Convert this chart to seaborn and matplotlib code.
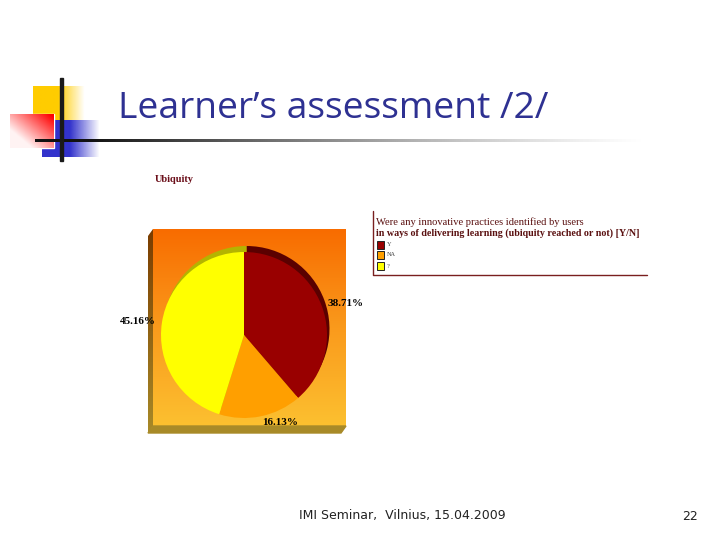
import numpy as np
import matplotlib
matplotlib.use('Agg')
import matplotlib.pyplot as plt
import seaborn as sns
from matplotlib.patches import Polygon, Rectangle

# Chart data
slide_title = 'Learner\u2019s assessment /2/'
footer = 'IMI Seminar,  Vilnius, 15.04.2009'
page = '22'
chart_title = 'Ubiquity'
legend_title = ['Were any innovative practices identified by users',
                'in ways of delivering learning (ubiquity reached or not) [Y/N]']
categories = ['Y', 'NA', '?']
shares = [38.71, 16.13, 45.16]
slice_colors = ['#990000', '#FF9F00', '#FFFF00']
shadow_colors = ['#5A0000', '#A06400', '#B4B400']

sns.set_theme(style='white')
plt.rcParams['font.family'] = ['DejaVu Sans']

fig = plt.figure(figsize=(7.2, 5.4), dpi=100, facecolor='white')

# Whole slide in pixel units
bg = fig.add_axes([0, 0, 1, 1])
bg.set_axis_off()


def fade(ax, extent, rgb, alpha, z):
    img = np.zeros(alpha.shape + (4,))
    img[..., :3] = matplotlib.colors.to_rgb(rgb)
    img[..., 3] = alpha
    ax.imshow(img, extent=extent, aspect='auto', zorder=z, interpolation='bilinear')


# Logo squares
xfade = np.clip((85 - np.linspace(33, 85, 60)) / 27, 0, 1)[None, :]
fade(bg, (33, 85, 120, 86), '#FFCC00', xfade, 1)
xfade = np.clip((100 - np.linspace(42, 100, 60)) / 30, 0, 1)[None, :]
fade(bg, (42, 100, 157, 120), '#3333CC', xfade, 1)
# red square is opaque, it hides the blue and yellow under it
bg.add_patch(Rectangle((10, 114), 44, 34, color='white', zorder=1.5))
gx, gy = np.meshgrid(np.linspace(0, 1, 50), np.linspace(0, 1, 40))
fade(bg, (10, 54, 148, 114), '#FF0000', np.clip(0.35 + 0.7 * gx - 0.65 * gy, 0.05, 1), 2)

# Rule lines
rule = np.clip((650 - np.linspace(35, 650, 300)) / 560, 0, 1)[None, :] ** 1.3
fade(bg, (35, 650, 142.5, 140), '#111111', rule, 3)
bg.add_patch(Rectangle((60, 78), 2.5, 83, color='#1A1A1A', zorder=4))

# Chart panel, front face and 3D edges
panel = sns.blend_palette(['#F86C00', '#FA9A1C', '#FCC030'], as_cmap=True)
bg.imshow(np.linspace(0, 1, 200)[:, None], cmap=panel, extent=(153, 346, 426, 229),
          aspect='auto', zorder=1)
edge = sns.blend_palette(['#7A3C00', '#A88A28'], as_cmap=True)
left_edge = Polygon([(153, 229), (148, 236), (148, 433), (153, 426)], closed=True,
                    fc='none', ec='none', transform=bg.transData)
bg.add_patch(left_edge)
left_img = bg.imshow(np.linspace(0, 1, 200)[:, None], cmap=edge, extent=(148, 153, 433, 229),
                     aspect='auto', zorder=1)
left_img.set_clip_path(left_edge)
bottom_edge = Polygon([(148, 433), (153, 426), (346, 426), (341, 433)], closed=True,
                      color='#A88A28', zorder=1)
bg.add_patch(bottom_edge)

bg.set_xlim(0, 720)
bg.set_ylim(540, 0)

# Slide text
bg.text(118, 118, slide_title, fontsize=26.8, color='#2E3192', family='Open Sans')
bg.text(402.5, 516, footer, fontsize=9, color='#222222', ha='center', va='center',
        family='DejaVu Sans')
bg.text(690, 516, page, fontsize=9, color='#222222', ha='center', va='center',
        family='DejaVu Sans')

# Chart title
bg.text(155, 180, chart_title, fontsize=7.5, color='#6B0F1A', fontweight='bold',
        family='Liberation Serif', va='center')

# Legend block
bg.plot([372.5, 372.5, 647], [211, 275, 275], color='#7A1F1F', lw=1)
for y, line, weight, size in zip([222, 233], legend_title, ['normal', 'bold'], [7.6, 7.2]):
    bg.text(376, y, line, fontsize=size, color='#5A1010', fontweight=weight,
            family='Liberation Serif', va='center')
for y, name, col in zip([241, 251, 262], categories, slice_colors):
    bg.add_patch(Rectangle((376.5, y), 7.5, 7.5, facecolor=col, edgecolor='#222222', lw=0.7))
    bg.text(387, y + 4, name, fontsize=4.5, color='#444444', va='center',
            family='Liberation Serif')

# Pie: axes box spans 180 px, data units are pixels
pie_ax = fig.add_axes([(244 - 90) / 720, 1 - (335 + 90) / 540, 180 / 720, 180 / 540])
pie_ax.patch.set_alpha(0)
flat = {'linewidth': 0, 'edgecolor': 'none'}
pie_ax.pie(shares, colors=shadow_colors, startangle=90, counterclock=False,
           radius=83, center=(2.5, 6), wedgeprops=flat)
labels = [f'{v:.2f}%' for v in shares]
wedges, texts = pie_ax.pie(shares, colors=slice_colors, startangle=90, counterclock=False,
                           radius=83, labels=labels, labeldistance=1.08, wedgeprops=flat,
                           textprops={'fontsize': 8, 'fontweight': 'bold', 'color': 'black',
                                      'family': 'Liberation Serif'})
pie_ax.set_xlim(-90, 90)
pie_ax.set_ylim(-90, 90)
pie_ax.set_axis_off()

fig.savefig('out.png', dpi=100)
